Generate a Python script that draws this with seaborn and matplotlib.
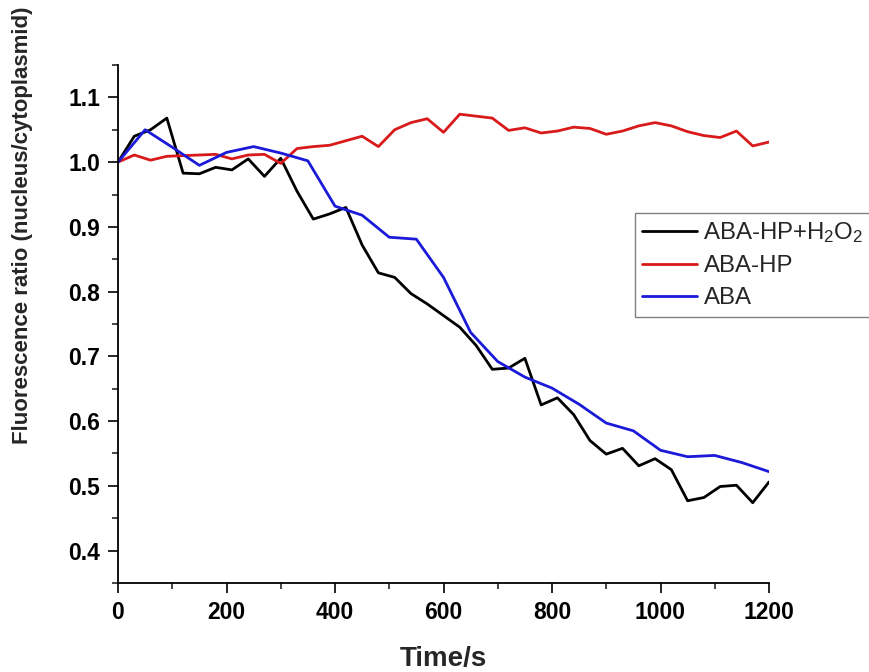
import matplotlib
matplotlib.use("Agg")
import matplotlib.pyplot as plt
from matplotlib.ticker import MultipleLocator
import pandas as pd
import seaborn as sns

# Data
time_30 = list(range(0, 1201, 30))
time_50 = list(range(0, 1201, 50))

aba_hp_h2o2 = [1.000, 1.040, 1.050, 1.068, 0.983, 0.982, 0.992, 0.988, 1.005, 0.978,
               1.006, 0.955, 0.912, 0.920, 0.930, 0.872, 0.829, 0.822, 0.797, 0.781,
               0.763, 0.745, 0.717, 0.680, 0.682, 0.697, 0.625, 0.636, 0.610, 0.570,
               0.549, 0.558, 0.531, 0.542, 0.525, 0.477, 0.482, 0.499, 0.501, 0.474,
               0.506]
aba_hp = [1.000, 1.011, 1.003, 1.009, 1.010, 1.011, 1.012, 1.005, 1.011, 1.012,
          0.998, 1.021, 1.024, 1.026, 1.033, 1.040, 1.024, 1.050, 1.061, 1.067,
          1.046, 1.074, 1.071, 1.068, 1.049, 1.053, 1.045, 1.048, 1.054, 1.052,
          1.043, 1.048, 1.056, 1.061, 1.056, 1.047, 1.041, 1.038, 1.048, 1.025,
          1.031]
aba = [1.000, 1.050, 1.023, 0.995, 1.015, 1.024, 1.014, 1.002, 0.932, 0.918,
       0.884, 0.881, 0.822, 0.737, 0.692, 0.668, 0.651, 0.626, 0.597, 0.585,
       0.555, 0.545, 0.547, 0.536, 0.522]

names = ["ABA-HP+H$_2$O$_2$", "ABA-HP", "ABA"]
colors = ["#000000", "#d81a1a", "#1a1ad8"]

df = pd.concat([
    pd.DataFrame({"t": time_30, "ratio": aba_hp_h2o2, "group": names[0]}),
    pd.DataFrame({"t": time_30, "ratio": aba_hp, "group": names[1]}),
    pd.DataFrame({"t": time_50, "ratio": aba, "group": names[2]}),
])

sns.set_style("ticks")
plt.rcParams["font.family"] = ["Liberation Sans", "DejaVu Sans"]
plt.rcParams["mathtext.default"] = "regular"

fig = plt.figure(figsize=(8.7, 6.72), dpi=100)
ax = fig.add_axes([118 / 870, 89 / 672, 651 / 870, 518 / 672])

sns.lineplot(data=df, x="t", y="ratio", hue="group", hue_order=names,
             palette=colors, estimator=None, sort=False, linewidth=2,
             ax=ax, legend=False)

ax.set_xlim(0, 1200)
ax.set_ylim(0.35, 1.15)
ax.xaxis.set_major_locator(MultipleLocator(200))
ax.xaxis.set_minor_locator(MultipleLocator(100))
ax.yaxis.set_minor_locator(MultipleLocator(0.05))
ax.set_yticks([0.4, 0.5, 0.6, 0.7, 0.8, 0.9, 1.0, 1.1])
ax.yaxis.set_major_formatter(plt.FuncFormatter(lambda v, p: f"{v:.1f}"))

for s in ["top", "right"]:
    ax.spines[s].set_visible(False)
for s in ["left", "bottom"]:
    ax.spines[s].set_linewidth(1.3)
    ax.spines[s].set_color("black")

ax.tick_params(which="major", direction="out", length=7, width=1.2, pad=6,
               labelsize=16.5, colors="black")
ax.tick_params(which="minor", direction="out", length=4.5, width=1.2)
for lab in ax.get_xticklabels() + ax.get_yticklabels():
    lab.set_fontweight("bold")

ax.set_xlabel("Time/s", fontsize=20, fontweight="bold")
ax.set_ylabel("Fluorescence ratio (nucleus/cytoplasmid)", fontsize=16,
              fontweight="bold")
ax.xaxis.set_label_coords(0.5, -0.147)
ax.yaxis.set_label_coords(-0.147, 0.69)
ax.xaxis.label.set_va("center")
ax.yaxis.label.set_va("center")

handles = ax.get_lines()[:3]
leg = fig.legend(handles, names, loc="upper left",
                 bbox_to_anchor=(635 / 870, 1 - 213 / 672), fontsize=17.3,
                 frameon=True, fancybox=False, edgecolor="#808080",
                 framealpha=1, handlelength=2.3, handletextpad=0.25,
                 borderpad=0.3, labelspacing=0.42, borderaxespad=0)
leg.get_frame().set_linewidth(1.0)

fig.savefig("out.png", dpi=100)
